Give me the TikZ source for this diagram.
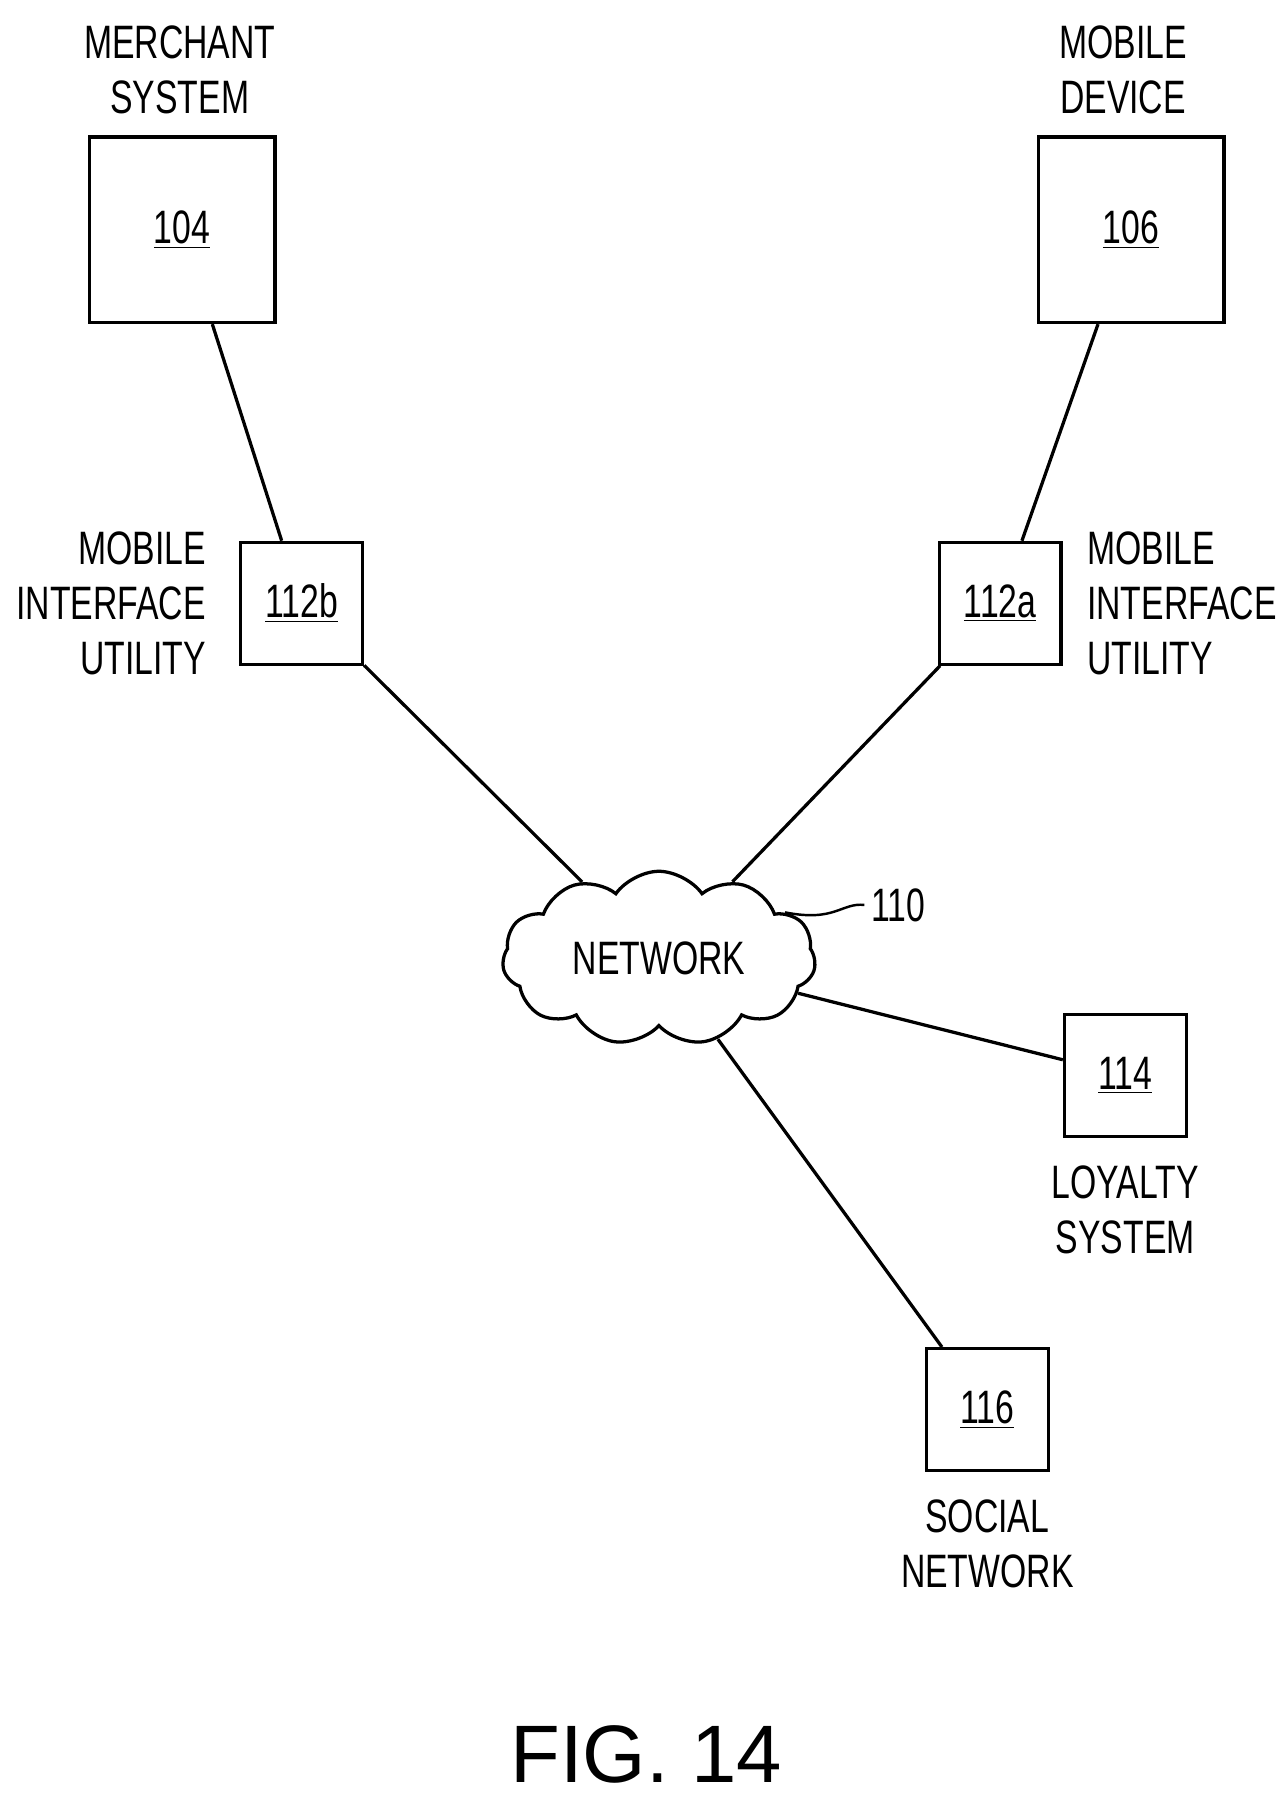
\documentclass[tikz,border=0pt]{standalone}
\usepackage{fontspec}
\setmainfont[FakeStretch=0.72]{Liberation Sans}
\newfontfamily\figfont{Liberation Sans}
\usetikzlibrary{shapes, shapes.symbols, positioning, calc}

\begin{document}
\begin{tikzpicture}[x=0.02cm, y=-0.02cm,
    box/.style={draw, line width=1.6pt, minimum width=3.2cm, minimum height=3.2cm},
    smallbox/.style={draw, line width=1.6pt, minimum width=2.1cm, minimum height=2.1cm},
    lbl/.style={font=\fontsize{23}{27}\selectfont, align=center},
    link/.style={line width=1.6pt}]
    \useasboundingbox (0,0) rectangle (1110,1555);
    % main boxes
    \node[box] (m104) at (157,198) {\fontsize{23}{27}\selectfont\underline{104}};
    \node[box] (d106) at (975,198) {\fontsize{23}{27}\selectfont\underline{106}};
    \node[lbl] at (155,60) {MERCHANT\\SYSTEM};
    \node[lbl] at (968,60) {MOBILE\\DEVICE};
    % interface utilities
    \node[smallbox] (u112b) at (260,520) {\fontsize{23}{27}\selectfont\underline{112b}};
    \node[smallbox] (u112a) at (862,520) {\fontsize{23}{27}\selectfont\underline{112a}};
    \node[lbl, align=right, left=0.45cm of u112b] {MOBILE\\INTERFACE\\UTILITY};
    \node[lbl, align=left, right=0.3cm of u112a] {MOBILE\\INTERFACE\\UTILITY};
    % network
    \node[cloud, draw, line width=1.6pt, cloud puffs=11, cloud puff arc=110, aspect=1.9,
          minimum width=5.4cm, minimum height=3cm, lbl] (net) at (568,826) {NETWORK};
    \coordinate (n110) at (745,780);
    \draw[line width=1.2pt] (net.20) .. controls (720,795) and (725,778) .. (n110);
    \node[lbl, anchor=west] at (n110) {110};
    % other systems
    \node[smallbox] (l114) at (970,927) {\fontsize{23}{27}\selectfont\underline{114}};
    \node[smallbox] (s116) at (851,1215) {\fontsize{23}{27}\selectfont\underline{116}};
    \node[lbl, below=0.35cm of l114] {LOYALTY\\SYSTEM};
    \node[lbl, below=0.35cm of s116] {SOCIAL\\NETWORK};
    % links
    \draw[link] (m104) -- (u112b);
    \draw[link] (d106) -- (u112a);
    \draw[link] (u112b) -- (net);
    \draw[link] (u112a) -- (net);
    \draw[link] (net) -- (l114);
    \draw[link] (net) -- (s116);
    \node[font=\figfont\fontsize{40}{46}\selectfont] at (557,1512) {FIG. 14};
\end{tikzpicture}
\end{document}
